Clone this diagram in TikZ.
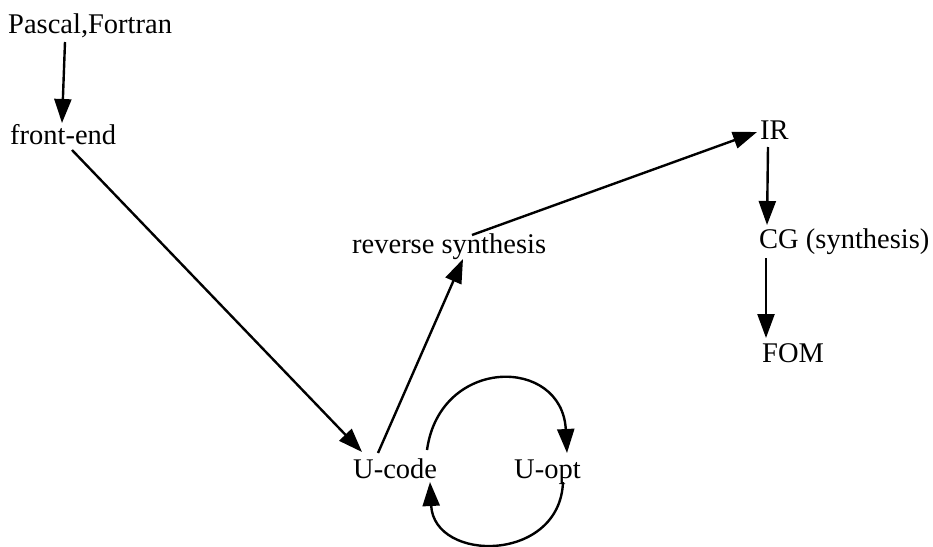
\documentclass[tikz,border=0pt]{standalone}
\usepackage{fontspec}
\setmainfont{Liberation Serif}
\usetikzlibrary{arrows.meta,calc}
\begin{document}
\begin{tikzpicture}[x=1pt,y=-1pt,
  lbl/.style={anchor=base west,inner sep=0pt,font=\fontsize{28.5}{30}\selectfont},
  conn/.style={line width=2.4pt,-{Triangle[length=24pt,width=17pt]}}]
\useasboundingbox (0,0) rectangle (933,546);
\node[lbl] (pf) at (8,33) {Pascal,Fortran};
\node[lbl] (fe) at (10,144) {front-end};
\node[lbl] (rs) at (352,253) {reverse synthesis};
\node[lbl] (ir) at (760,139) {IR};
\node[lbl] (cg) at (759,248) {CG (synthesis)};
\node[lbl] (fom) at (762,362) {FOM};
\node[lbl] (uc) at (353,478) {U-code};
\node[lbl] (uo) at (514,478) {U-opt};
\draw[conn] ($(pf.base west)+(57,9)$) -- ($(fe.base west)+(52,-21)$);
\draw[conn] ($(fe.base west)+(62,6)$) -- ($(uc.base west)+(9,-26)$);
\draw[conn] ($(uc.base west)+(25,-25)$) -- ($(rs.base west)+(111,6)$);
\draw[conn] ($(rs.base west)+(120,-18)$) -- ($(ir.base west)+(-3,-7)$);
\draw[conn] ($(ir.base west)+(8,8)$) -- ($(cg.base west)+(8,-23)$);
\draw[conn] ($(cg.base west)+(7,10)$) -- ($(fom.base west)+(4,-24)$);
\draw[conn] ($(uc.base west)+(74,-28)$) .. controls (440,356) and (562,356) .. ($(uo.base west)+(53,-25)$);
\draw[conn] ($(uo.base west)+(49,4)$) .. controls (560,563) and (434,563) .. ($(uc.base west)+(77,4)$);
\end{tikzpicture}
\end{document}
